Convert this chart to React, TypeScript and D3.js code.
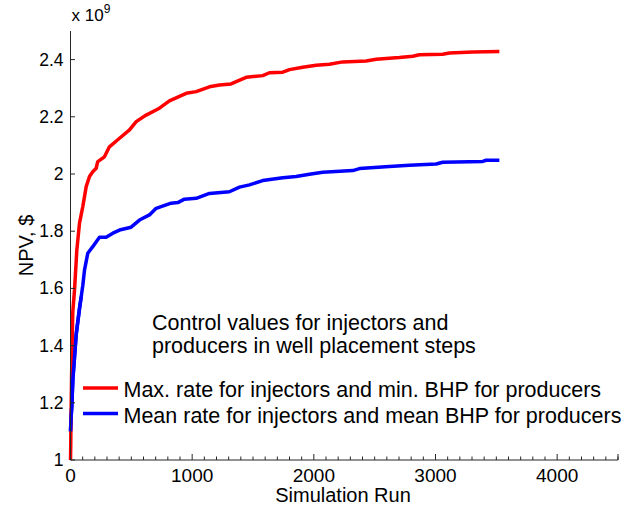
import React from "react";
import * as d3 from "d3";

// Best-so-far NPV (in units of 1e9 $) versus number of simulation runs
const maxRateRuns = [0, 2, 3, 6, 10, 14, 19, 33, 52, 74, 101, 129, 156, 183, 211, 224, 279, 320, 403, 485, 540, 622, 731, 813, 951, 1033, 1142, 1224, 1320, 1362, 1444, 1580, 1635, 1745, 1800, 1909, 2019, 2128, 2237, 2430, 2512, 2703, 2813, 2868, 3059, 3114, 3306, 3525];
const maxRateNpv = [1.0, 1.05, 1.1, 1.2, 1.32, 1.42, 1.52, 1.594, 1.734, 1.828, 1.886, 1.956, 1.991, 2.008, 2.02, 2.043, 2.06, 2.095, 2.125, 2.154, 2.183, 2.206, 2.23, 2.256, 2.282, 2.288, 2.305, 2.311, 2.315, 2.323, 2.338, 2.344, 2.354, 2.356, 2.365, 2.373, 2.38, 2.384, 2.392, 2.395, 2.401, 2.407, 2.412, 2.417, 2.419, 2.423, 2.427, 2.428];

const meanRateRuns = [0, 5, 11, 19, 33, 47, 74, 88, 101, 115, 142, 183, 238, 293, 348, 403, 498, 567, 649, 704, 786, 827, 882, 937, 1033, 1142, 1306, 1389, 1471, 1580, 1745, 1854, 1964, 2073, 2320, 2375, 2621, 2786, 3005, 3059, 3388, 3416, 3525];
const meanRateNpv = [1.1, 1.15, 1.19, 1.28, 1.36, 1.44, 1.53, 1.571, 1.61, 1.664, 1.723, 1.746, 1.779, 1.779, 1.793, 1.804, 1.814, 1.839, 1.857, 1.88, 1.892, 1.898, 1.9, 1.912, 1.915, 1.932, 1.938, 1.954, 1.962, 1.977, 1.987, 1.991, 1.999, 2.006, 2.012, 2.019, 2.026, 2.031, 2.035, 2.041, 2.044, 2.048, 2.048];

const seriesNames = [
  "Max. rate for injectors and min. BHP for producers",
  "Mean rate for injectors and mean BHP for producers",
];
const seriesColors = ["#ff0000", "#0000ff"];

const xTickValues = [0, 1000, 2000, 3000, 4000];
const yTickValues = [1, 1.2, 1.4, 1.6, 1.8, 2, 2.2, 2.4];
const yTickLabels = ["1", "1.2", "1.4", "1.6", "1.8", "2", "2.2", "2.4"];

const noteLines = ["Control values for injectors and", "producers in well placement steps"];

const W = 625;
const H = 507;
const margin = { left: 70.5, right: 7, top: 31, bottom: 47 };
const FONT = "'Liberation Sans', Arial, sans-serif";
const AXIS = "#262626";

export default function App() {
  const x = d3.scaleLinear().domain([0, 4500]).range([margin.left, W - margin.right]);
  const y = d3.scaleLinear().domain([1, 2.5]).range([H - margin.bottom, margin.top]);

  const line = d3
    .line<[number, number]>()
    .x((d) => x(d[0]))
    .y((d) => y(d[1]));

  const red = maxRateRuns.map((r, i) => [r, maxRateNpv[i]] as [number, number]);
  const blue = meanRateRuns.map((r, i) => [r, meanRateNpv[i]] as [number, number]);

  const x0 = x(0);
  const yBase = y(1);
  const minorTicks = d3.range(0, 4501, 100).filter((v) => v % 1000 !== 0);

  return (
    <svg
      width={W}
      height={H}
      style={{ position: "absolute", left: 0, top: 0, background: "#fff" }}
      fontFamily={FONT}
    >
      <rect width={W} height={H} fill="#fff" />

      {/* data lines */}
      <path d={line(blue) ?? ""} fill="none" stroke={seriesColors[1]} strokeWidth={3.5} strokeLinejoin="round" />
      <path d={line(red) ?? ""} fill="none" stroke={seriesColors[0]} strokeWidth={3.5} strokeLinejoin="round" />
      <path d={line(blue.slice(0, 8)) ?? ""} fill="none" stroke={seriesColors[1]} strokeWidth={3.5} strokeLinejoin="round" />

      {/* axes */}
      <line x1={x0} x2={x0} y1={y(2.5)} y2={yBase} stroke={AXIS} strokeWidth={1} />
      <line x1={x0} x2={x(4500)} y1={yBase} y2={yBase} stroke={AXIS} strokeWidth={1} />

      {minorTicks.map((v) => (
        <line key={"m" + v} x1={x(v)} x2={x(v)} y1={yBase} y2={yBase - 3.5} stroke={AXIS} strokeWidth={1} />
      ))}
      {xTickValues.map((v) => (
        <g key={"x" + v}>
          <line x1={x(v)} x2={x(v)} y1={yBase} y2={yBase - 6} stroke={AXIS} strokeWidth={1} />
          <text x={x(v)} y={yBase + 21.5} textAnchor="middle" fontSize={19} fill="#000">
            {v}
          </text>
        </g>
      ))}
      <line x1={x(4500)} x2={x(4500)} y1={yBase} y2={yBase - 6} stroke={AXIS} strokeWidth={1} />

      {yTickValues.map((v, i) => (
        <g key={"y" + v}>
          <line x1={x0} x2={x0 + 4.5} y1={y(v)} y2={y(v)} stroke={AXIS} strokeWidth={1} />
          <text x={x0 - 7} y={y(v) + 6} textAnchor="end" fontSize={17.5} fill="#000">
            {yTickLabels[i]}
          </text>
        </g>
      ))}

      {/* exponent */}
      <text x={x0 + 1} y={21} fontSize={17} fill="#000">
        x 10
        <tspan dy={-8} fontSize={12}>9</tspan>
      </text>

      {/* axis titles */}
      <text
        transform={`translate(${33},${(y(2.5) + yBase) / 2}) rotate(-90)`}
        textAnchor="middle"
        fontSize={20}
        fill="#000"
      >
        NPV, $
      </text>
      <text x={343} y={501.5} textAnchor="middle" fontSize={20} fill="#000">
        Simulation Run
      </text>

      {/* legend */}
      {noteLines.map((t, i) => (
        <text key={t} x={152} y={330 + i * 23} fontSize={21.5} fill="#000">
          {t}
        </text>
      ))}
      {seriesNames.map((name, i) => (
        <g key={name}>
          <line x1={83} x2={118} y1={388 + i * 25.5} y2={388 + i * 25.5} stroke={seriesColors[i]} strokeWidth={3.5} />
          <text x={123.5} y={397 + i * 25.5} fontSize={21.5} fill="#000">
            {name}
          </text>
        </g>
      ))}
    </svg>
  );
}
